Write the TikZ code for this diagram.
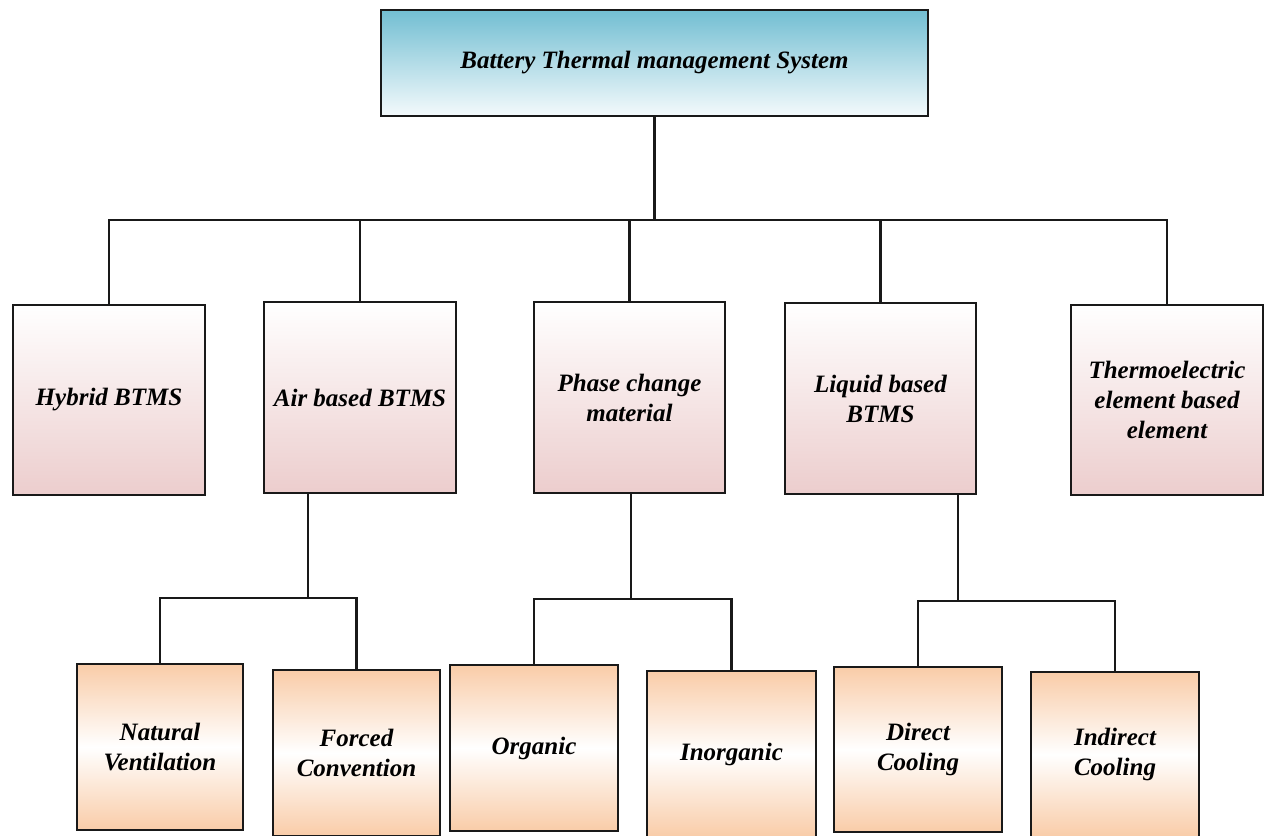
\documentclass[tikz,border=0pt]{standalone}
\usepackage{fontspec}
\setmainfont{Liberation Serif}
\definecolor{skyblue}{RGB}{114,190,210}
\definecolor{paleblue}{RGB}{244,250,252}
\definecolor{rosepink}{RGB}{236,205,205}
\definecolor{peach}{RGB}{249,204,168}
\tikzset{
  box/.style={draw=black!90, line width=2.7pt, rectangle, inner sep=0pt, align=center,
    font=\fontsize{25}{30}\selectfont\bfseries\itshape},
  rootbox/.style={box, top color=skyblue, bottom color=paleblue},
  midbox/.style={box, top color=white, bottom color=rosepink, minimum width=192pt},
  leafbox/.style={box, top color=peach, bottom color=peach, middle color=white, minimum width=167pt},
  link/.style={draw=black!90, line width=2.3pt}
}
\begin{document}
\begin{tikzpicture}[x=1pt,y=-1pt]
\useasboundingbox (0,0) rectangle (1265,835);
\clip (0,0) rectangle (1265,835);
\fill[white] (0,0) rectangle (1265,835);

% root
\node[rootbox, minimum width=547pt, minimum height=106pt] (root) at (654.5,63) {Battery Thermal management System};

% first level
\node[midbox, minimum height=190pt] (hyb) at (109,400) {Hybrid BTMS};
\node[midbox, minimum height=191pt] (air) at (360,397.5) {Air based BTMS};
\node[midbox, minimum width=191pt, minimum height=191pt] (pcm) at (629.5,397.5) {Phase change\\material};
\node[midbox, minimum width=191pt, minimum height=191pt] (liq) at (880.5,398.5) {Liquid based\\BTMS};
\node[midbox, minimum height=190pt] (teb) at (1167,400) {Thermoelectric\\element based\\element};

% second level
\node[leafbox, minimum width=166pt, minimum height=166pt] (nat) at (160,747) {Natural\\Ventilation};
\node[leafbox, minimum height=166pt] (frc) at (356.5,753) {Forced\\Convention};
\node[leafbox, minimum width=168pt, minimum height=166pt] (org) at (534,748) {Organic};
\node[leafbox, minimum width=169pt, minimum height=166pt] (ino) at (731.5,754) {Inorganic};
\node[leafbox, minimum width=168pt, minimum height=165pt] (dir) at (918,749.5) {Direct\\Cooling};
\node[leafbox, minimum width=168pt, minimum height=165pt] (ind) at (1115,754.5) {Indirect\\Cooling};

% junctions
\coordinate (tj) at (654.5,220);
\coordinate (aj) at (308,598);
\coordinate (pj) at (631,599);
\coordinate (lj) at (958,601);

% root to first level
\draw[link] (root.south) -- (tj);
\draw[link] (hyb.north) |- (tj) -| (teb.north);
\draw[link] (air.north) -- (air.north |- tj);
\draw[link] (pcm.north) -- (pcm.north |- tj);
\draw[link] (liq.north) -- (liq.north |- tj);

% air based branch
\draw[link] (air.south -| aj) -- (aj);
\draw[link] (nat.north) |- (aj) -| (frc.north);

% phase change branch
\draw[link] (pcm.south -| pj) -- (pj);
\draw[link] (org.north) |- (pj) -| (ino.north);

% liquid based branch
\draw[link] (liq.south -| lj) -- (lj);
\draw[link] (dir.north) |- (lj) -| (ind.north);
\end{tikzpicture}
\end{document}
